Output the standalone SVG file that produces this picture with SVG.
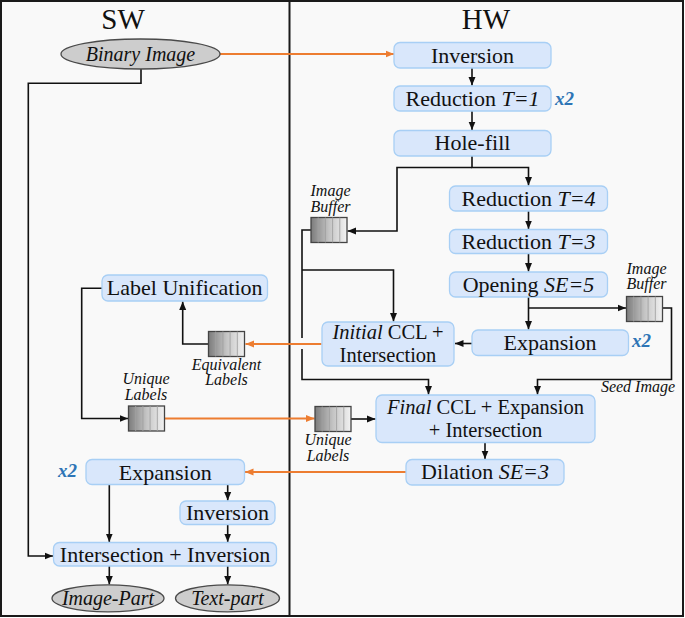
<svg xmlns="http://www.w3.org/2000/svg" xmlns:xlink="http://www.w3.org/1999/xlink" width="685" height="618" viewBox="0 0 685 618">
<style>
.box{fill:#d9e7fb;stroke:#a8cff5;stroke-width:1.3}
.ell{fill:#cdcdcd;stroke:#4a4a4a;stroke-width:1.3}
.t{font-family:"Liberation Serif","Times New Roman",serif;font-size:22px;fill:#111;text-anchor:middle}
.t2{font-family:"Liberation Serif","Times New Roman",serif;font-size:20.5px;fill:#111;text-anchor:middle}
.ti{font-family:"Liberation Serif","Times New Roman",serif;font-size:20px;font-style:italic;fill:#111;text-anchor:middle}
.s{font-family:"Liberation Serif","Times New Roman",serif;font-size:16px;font-style:italic;fill:#111;text-anchor:middle}
.x2{font-family:"Liberation Serif","Times New Roman",serif;font-size:19px;font-style:italic;font-weight:bold;fill:#2e75b6}
.h{font-family:"Liberation Serif","Times New Roman",serif;font-size:29px;fill:#111;text-anchor:middle}
.k{fill:none;stroke:#111;stroke-width:1.6;marker-end:url(#ak)}
.kn{fill:none;stroke:#111;stroke-width:1.6}
.o{fill:none;stroke:#ed7d31;stroke-width:2;marker-end:url(#ao)}
</style>
<defs>
<marker id="ak" markerUnits="userSpaceOnUse" markerWidth="9" markerHeight="8" refX="8.5" refY="4" orient="auto"><path d="M0,0.5 L8.5,4 L0,7.5 z" fill="#111"/></marker>
<marker id="ao" markerUnits="userSpaceOnUse" markerWidth="9" markerHeight="8" refX="8.5" refY="4" orient="auto"><path d="M0,0.5 L8.5,4 L0,7.5 z" fill="#ed7d31"/></marker>
<linearGradient id="bg" x1="0" y1="0" x2="1" y2="0"><stop offset="0" stop-color="#7c7c7c"/><stop offset="0.5" stop-color="#c4c4c4"/><stop offset="1" stop-color="#f2f2f2"/></linearGradient>
<g id="buf"><rect width="36" height="25" fill="url(#bg)" stroke="#444" stroke-width="1.3"/><path d="M7.2,0V25M14.4,0V25M21.6,0V25M28.8,0V25" stroke="#a0a0a0" stroke-width="0.9"/></g>
</defs>
<rect x="1" y="1" width="682" height="615" fill="#f9f9f9" stroke="#1a1a1a" stroke-width="2"/>
<line x1="289.5" y1="0" x2="289.5" y2="617" stroke="#1a1a1a" stroke-width="2"/>
<text class="h" x="123" y="28.5">SW</text>
<text class="h" x="486" y="28.5">HW</text>

<g id="connectors">
<path class="o" d="M220,54 H394"/>
<path class="o" d="M321.5,344 H245.5"/>
<path class="o" d="M165,418.5 H314.5"/>
<path class="o" d="M406,472 H245"/>
<path class="k" d="M472,68 V85.5"/>
<path class="k" d="M472,111 V130"/>
<path class="k" d="M472,156 V167.5 H528.5 V185.5"/>
<path class="k" d="M472,167.5 H397 V231 H347.5"/>
<path class="k" d="M528.5,211 V229"/>
<path class="k" d="M528.5,253.5 V271.5"/>
<path class="k" d="M528.5,297 V329.5"/>
<path class="k" d="M528.5,308 H626"/>
<path class="k" d="M662.5,308 H671.5 V379.5 H537.5 V394.5"/>
<path class="kn" d="M311,230 H302 V338"/>
<path class="k" d="M302,349 V379.5 H428.5 V394.5"/>
<path class="k" d="M302,270 H393.5 V321.5"/>
<path class="k" d="M472,343.5 H455"/>
<path class="k" d="M351,419 H375.5"/>
<path class="k" d="M485,442.5 V459"/>
<path class="k" d="M208.5,344 H182.7 V301.5"/>
<path class="k" d="M102,288.3 H81.7 V418.5 H128"/>
<path class="k" d="M141,69 V83.3 H28.3 V556 H53"/>
<path class="k" d="M227.7,484.5 V500.5"/>
<path class="k" d="M227.7,524.5 V542"/>
<path class="k" d="M109.3,484.5 V542"/>
<path class="k" d="M109.3,566 V584.5"/>
<path class="k" d="M227.7,566 V584.5"/>
</g>

<g id="binary-image"><ellipse class="ell" cx="140.5" cy="54" rx="79.5" ry="15"/><text class="ti" x="140.5" y="60.5">Binary Image</text></g>
<g id="inversion-hw"><rect class="box" x="394" y="42.5" width="157" height="25.5" rx="6"/><text class="t" x="472.5" y="62.5">Inversion</text></g>
<g id="reduction-t1"><rect class="box" x="394" y="86" width="157" height="25" rx="6"/><text class="t" x="472.5" y="105.5">Reduction <tspan font-style="italic">T=1</tspan></text><text class="x2" x="555" y="105">x2</text></g>
<g id="hole-fill"><rect class="box" x="394" y="130.5" width="157" height="25.5" rx="6"/><text class="t" x="472.5" y="150">Hole-fill</text></g>
<g id="reduction-t4"><rect class="box" x="449.5" y="186" width="158" height="25" rx="6"/><text class="t" x="528.5" y="205.5">Reduction <tspan font-style="italic">T=4</tspan></text></g>
<g id="reduction-t3"><rect class="box" x="449.5" y="229.5" width="158" height="24" rx="6"/><text class="t" x="528.5" y="248.5">Reduction <tspan font-style="italic">T=3</tspan></text></g>
<g id="opening"><rect class="box" x="449.5" y="272" width="158" height="25" rx="6"/><text class="t" x="528.5" y="291.5">Opening <tspan font-style="italic">SE=5</tspan></text></g>
<g id="expansion-hw"><rect class="box" x="472" y="330" width="156.5" height="25.5" rx="6"/><text class="t" x="550" y="350">Expansion</text><text class="x2" x="632" y="347">x2</text></g>
<g id="initial-ccl"><rect class="box" x="322" y="322" width="132" height="44" rx="6"/><text class="t2" x="388" y="339"><tspan font-style="italic">Initial</tspan> CCL +</text><text class="t2" x="388" y="362">Intersection</text></g>
<g id="final-ccl"><rect class="box" x="376" y="395" width="219" height="47.5" rx="6"/><text class="t2" x="485.5" y="413.5"><tspan font-style="italic">Final</tspan> CCL + Expansion</text><text class="t2" x="485.5" y="436.5">+ Intersection</text></g>
<g id="dilation"><rect class="box" x="406" y="459.5" width="158" height="25.5" rx="6"/><text class="t" x="485" y="478.5">Dilation <tspan font-style="italic">SE=3</tspan></text></g>

<g id="buffer-1"><use xlink:href="#buf" x="311" y="217.5"/><text class="s" x="330.5" y="196">Image</text><text class="s" x="330.5" y="211.5">Buffer</text></g>
<g id="buffer-2"><use xlink:href="#buf" x="626.5" y="296.5"/><text class="s" x="646.5" y="273.5">Image</text><text class="s" x="646.5" y="289">Buffer</text></g>
<text class="s" x="638" y="392" font-size="17">Seed Image</text>
<g id="unique-labels-hw"><use xlink:href="#buf" x="315" y="406.5"/><text class="s" x="328" y="445">Unique</text><text class="s" x="328" y="460.5">Labels</text></g>
<g id="equivalent-labels"><use xlink:href="#buf" x="208.5" y="331.5"/><text class="s" x="226.5" y="369.5">Equivalent</text><text class="s" x="226.5" y="385">Labels</text></g>
<g id="unique-labels-sw"><use xlink:href="#buf" x="128.5" y="406"/><text class="s" x="146" y="384">Unique</text><text class="s" x="146" y="399.5">Labels</text></g>

<g id="label-unification"><rect class="box" x="102" y="275" width="165.5" height="26" rx="6"/><text class="t" x="184.7" y="295">Label Unification</text></g>
<g id="expansion-sw"><rect class="box" x="86" y="459.5" width="158.5" height="25" rx="6"/><text class="t" x="165.2" y="480">Expansion</text><text class="x2" x="58" y="477">x2</text></g>
<g id="inversion-sw"><rect class="box" x="180" y="501" width="95" height="23.5" rx="6"/><text class="t" x="227.5" y="520">Inversion</text></g>
<g id="intersection-inversion"><rect class="box" x="53.5" y="542.5" width="223" height="23.5" rx="6"/><text class="t" x="165" y="561.5">Intersection + Inversion</text></g>
<g id="image-part"><ellipse class="ell" cx="108" cy="598.3" rx="56" ry="13.5"/><text class="ti" x="108" y="604.5">Image-Part</text></g>
<g id="text-part"><ellipse class="ell" cx="227.5" cy="598.3" rx="52" ry="13.5"/><text class="ti" x="227.5" y="604.5">Text-part</text></g>
</svg>
